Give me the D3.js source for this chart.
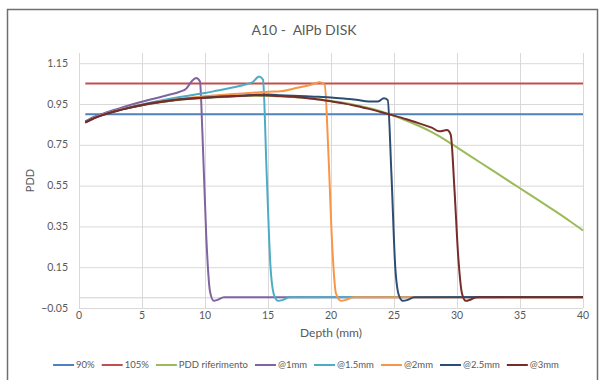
<!DOCTYPE html>
<html>
<head>
  <meta charset="utf-8">
  <title>A10 - AlPb DISK</title>
  <script src="https://d3js.org/d3.v7.min.js"></script>
  <style>
    body { margin: 0; background: #fff; }
    svg text { font-family: Lato, "Open Sans", sans-serif; fill: #595959; }
    .grid line { stroke: #d9d9d9; stroke-width: 1; }
    .grid path { display: none; }
  </style>
</head>
<body>
  <svg id="chart" width="599" height="380"></svg>

  <script>
    // ---- data ----
    const title = "A10 -  AlPb DISK";
    const xTicks = [0, 5, 10, 15, 20, 25, 30, 35, 40];
    const yTicks = [-0.05, 0.15, 0.35, 0.55, 0.75, 0.95, 1.15];

    const seriesNames = ["90%", "105%", "PDD riferimento", "@1mm", "@1.5mm", "@2mm", "@2.5mm", "@3mm"];
    const seriesColors = ["#4f81bd", "#c0504d", "#9bbb59", "#8064a2", "#4bacc6", "#f79646", "#2c4d75", "#772c2a"];

    const depth90 = [0.5, 40];
    const val90 = [0.9, 0.9];
    const depth105 = [0.5, 40];
    const val105 = [1.05, 1.05];

    const depthPdd = [0.5, 1, 2, 3, 4, 5, 6, 7, 8, 9, 10, 11, 12, 13, 14, 15, 16, 17, 18, 19, 20, 21, 22, 23, 24, 25, 26, 27, 28, 29, 30, 31, 32, 33, 34, 35, 36, 37, 38, 39, 40];
    const valPdd = [0.862, 0.877, 0.9, 0.918, 0.932, 0.944, 0.955, 0.964, 0.971, 0.976, 0.98, 0.983, 0.986, 0.989, 0.991, 0.99, 0.987, 0.984, 0.979, 0.973, 0.965, 0.956, 0.944, 0.93, 0.913, 0.892, 0.868, 0.842, 0.812, 0.777, 0.737, 0.697, 0.657, 0.617, 0.577, 0.537, 0.497, 0.457, 0.416, 0.374, 0.33];

    const depth1 = [0.5, 1, 2, 3, 4, 5, 6, 7, 8, 8.5, 9, 9.3, 9.6, 9.8, 10.1, 10.4, 10.7, 11, 11.5, 20, 40];
    const val1 = [0.865, 0.882, 0.905, 0.925, 0.944, 0.961, 0.977, 0.993, 1.01, 1.025, 1.065, 1.078, 1.06, 0.8, 0.3, 0.03, -0.015, -0.01, 0.003, 0.003, 0.003];

    const depth15 = [0.5, 1, 2, 3, 4, 5, 6, 7, 8, 9, 10, 11, 12, 13, 13.8, 14.3, 14.6, 14.9, 15.2, 15.5, 15.8, 16.2, 16.7, 25, 40];
    const val15 = [0.862, 0.877, 0.9, 0.918, 0.934, 0.948, 0.961, 0.973, 0.984, 0.994, 1.004, 1.016, 1.028, 1.042, 1.058, 1.085, 1.07, 0.6, 0.15, 0.01, -0.015, -0.01, 0.003, 0.004, 0.004];

    const depth2 = [0.5, 1, 2, 3, 4, 5, 6, 7, 8, 9, 10, 11, 12, 13, 14, 15, 16, 17, 18, 18.6, 19.1, 19.5, 19.8, 20.1, 20.4, 20.8, 21.2, 21.8, 30, 40];
    const val2 = [0.86, 0.876, 0.9, 0.918, 0.933, 0.946, 0.958, 0.967, 0.975, 0.982, 0.988, 0.993, 0.998, 1.002, 1.006, 1.01, 1.012, 1.025, 1.038, 1.048, 1.057, 1.045, 0.7, 0.25, 0.02, -0.015, -0.01, 0.003, 0.003, 0.003];

    const depth25 = [0.5, 1, 2, 3, 4, 5, 6, 7, 8, 9, 10, 11, 12, 13, 14, 15, 16, 17, 18, 19, 20, 21, 22, 23, 23.7, 24.2, 24.5, 24.8, 25.1, 25.4, 25.7, 26.1, 26.6, 35, 40];
    const val25 = [0.862, 0.876, 0.899, 0.917, 0.932, 0.945, 0.957, 0.966, 0.973, 0.978, 0.982, 0.984, 0.988, 0.991, 0.995, 0.996, 0.993, 0.99, 0.988, 0.985, 0.982, 0.977, 0.971, 0.962, 0.962, 0.978, 0.97, 0.6, 0.15, 0.01, -0.015, -0.01, 0.003, 0.004, 0.004];

    const depth3 = [0.5, 1, 2, 3, 4, 5, 6, 7, 8, 9, 10, 11, 12, 13, 14, 15, 16, 17, 18, 19, 20, 21, 22, 23, 24, 25, 26, 27, 28, 28.6, 29.2, 29.5, 29.8, 30.1, 30.4, 30.7, 31.1, 31.6, 40];
    const val3 = [0.858, 0.874, 0.898, 0.916, 0.931, 0.944, 0.955, 0.964, 0.972, 0.977, 0.981, 0.985, 0.988, 0.99, 0.993, 0.992, 0.989, 0.985, 0.979, 0.972, 0.963, 0.953, 0.94, 0.926, 0.91, 0.893, 0.875, 0.855, 0.834, 0.816, 0.822, 0.8, 0.53, 0.2, 0.02, -0.015, -0.008, 0.003, 0.003];

    const seriesDepths = [depth90, depth105, depthPdd, depth1, depth15, depth2, depth25, depth3];
    const seriesValues = [val90, val105, valPdd, val1, val15, val2, val25, val3];

    // ---- layout ----
    const svg = d3.select("svg#chart");
    const margins = { top: 53, right: 16, bottom: 72, left: 79 };
    const width = +svg.attr("width");
    const height = +svg.attr("height");
    const plotW = width - margins.left - margins.right;
    const plotH = height - margins.top - margins.bottom;

    // chart frame
    svg.append("rect")
      .attr("x", 7.5).attr("y", 9.5)
      .attr("width", 590).attr("height", 380)
      .attr("fill", "#fff")
      .attr("stroke", "#6f6f6f")
      .attr("stroke-width", 1.5);

    const xScale = d3.scaleLinear().domain([0, 40]).range([0, plotW]);
    const yScale = d3.scaleLinear().domain([-0.05, 1.2]).range([plotH, 0]);

    const plot = svg.append("g")
      .attr("transform", `translate(${margins.left},${margins.top})`);

    // gridlines
    plot.append("g")
      .attr("class", "grid")
      .attr("transform", `translate(0,${plotH})`)
      .call(d3.axisBottom(xScale).tickValues(xTicks).tickSize(-plotH).tickFormat(""));
    plot.append("g")
      .attr("class", "grid")
      .call(d3.axisLeft(yScale).tickValues(yTicks).tickSize(-plotW).tickFormat(""));

    // horizontal axis line crosses at 0
    plot.append("line")
      .attr("x1", 0).attr("x2", plotW)
      .attr("y1", yScale(0)).attr("y2", yScale(0))
      .attr("stroke", "#cfcfcf").attr("stroke-width", 1);

    // tick labels
    plot.append("g").selectAll("text")
      .data(xTicks)
      .join("text")
      .attr("x", d => xScale(d))
      .attr("y", plotH + 11)
      .attr("text-anchor", "middle")
      .attr("font-size", 10.5)
      .text(d => d);

    plot.append("g").selectAll("text")
      .data(yTicks)
      .join("text")
      .attr("x", -11)
      .attr("y", d => yScale(d) + 3.5)
      .attr("text-anchor", "end")
      .attr("font-size", 10.5)
      .text(d => d3.format(".2f")(d));

    // data lines
    const line = d3.line()
      .x(d => xScale(d[0]))
      .y(d => yScale(d[1]))
      .curve(d3.curveMonotoneX);

    seriesNames.forEach((name, i) => {
      const pts = seriesDepths[i].map((dp, j) => [dp, seriesValues[i][j]]);
      plot.append("path")
        .attr("d", line(pts))
        .attr("fill", "none")
        .attr("stroke", seriesColors[i])
        .attr("stroke-width", 2);
    });

    // titles
    svg.append("text")
      .attr("x", 304).attr("y", 35)
      .attr("text-anchor", "middle")
      .attr("font-size", 14)
      .style("white-space", "pre")
      .attr("xml:space", "preserve")
      .text(title);

    svg.append("text")
      .attr("x", margins.left + plotW / 2)
      .attr("y", 337)
      .attr("text-anchor", "middle")
      .attr("font-size", 12)
      .text("Depth (mm)");

    svg.append("text")
      .attr("transform", `translate(34,${margins.top + plotH / 2}) rotate(-90)`)
      .attr("text-anchor", "middle")
      .attr("font-size", 11)
      .text("PDD");

    // legend
    const legend = svg.append("g");
    let cursor = 0;
    seriesNames.forEach((name, i) => {
      const item = legend.append("g").attr("transform", `translate(${cursor},0)`);
      item.append("line")
        .attr("x1", 0).attr("x2", 21)
        .attr("y1", 0).attr("y2", 0)
        .attr("stroke", seriesColors[i])
        .attr("stroke-width", 2);
      const t = item.append("text")
        .attr("x", 23).attr("y", 3.3)
        .attr("font-size", 9.5)
        .text(name);
      cursor += 23 + t.node().getComputedTextLength() + 7;
    });
    legend.attr("transform", `translate(${306 - (cursor - 7) / 2},365)`);
  </script>
</body>
</html>
